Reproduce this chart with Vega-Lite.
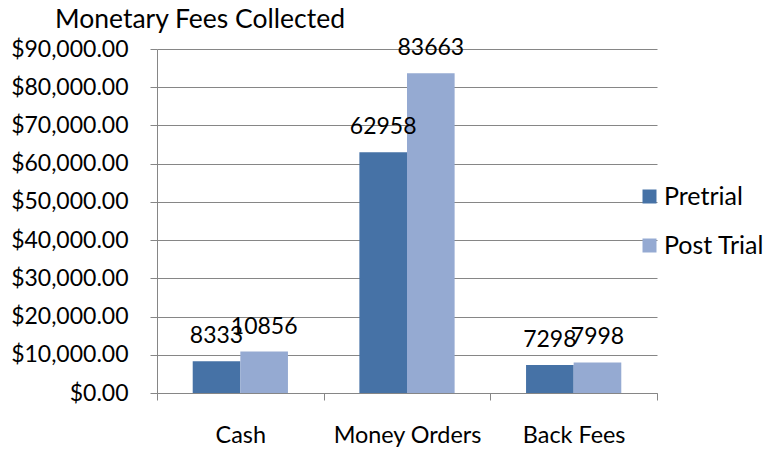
{
  "$schema": "https://vega.github.io/schema/vega-lite/v6.json",
  "width": 500,
  "height": 344,
  "autosize": {"type": "none"},
  "padding": {"left": 157, "top": 49, "right": 106, "bottom": 58},
  "background": "white",
  "title": {
    "text": "Monetary Fees Collected",
    "anchor": "start",
    "frame": "group",
    "dx": -102,
    "offset": 4,
    "font": "Lato",
    "fontSize": 26.5,
    "fontWeight": "normal",
    "color": "black"
  },
  "config": {
    "view": {"stroke": null},
    "font": "Lato"
  },
  "data": {
    "values": [
      {"category": "Cash", "series": "Pretrial", "value": 8333},
      {"category": "Cash", "series": "Post Trial", "value": 10856},
      {"category": "Money Orders", "series": "Pretrial", "value": 62958},
      {"category": "Money Orders", "series": "Post Trial", "value": 83663},
      {"category": "Back Fees", "series": "Pretrial", "value": 7298},
      {"category": "Back Fees", "series": "Post Trial", "value": 7998}
    ]
  },
  "encoding": {
    "x": {
      "field": "category",
      "type": "nominal",
      "sort": ["Cash", "Money Orders", "Back Fees"],
      "scale": {"paddingInner": 0, "paddingOuter": 0},
      "axis": {
        "title": null,
        "labelAngle": 0,
        "tickBand": "extent",
        "tickSize": 7,
        "tickColor": "#868686",
        "domainColor": "#868686",
        "labelPadding": 24,
        "labelFont": "Lato",
        "labelFontSize": 23.4,
        "labelColor": "black",
        "grid": false
      }
    },
    "xOffset": {
      "field": "series",
      "type": "nominal",
      "sort": ["Pretrial", "Post Trial"],
      "scale": {"paddingInner": 0, "paddingOuter": 0.75}
    },
    "y": {
      "field": "value",
      "type": "quantitative",
      "scale": {"domain": [0, 90000], "nice": false},
      "axis": {
        "title": null,
        "values": [0, 10000, 20000, 30000, 40000, 50000, 60000, 70000, 80000, 90000],
        "format": "$,.2f",
        "tickSize": 7,
        "tickColor": "#868686",
        "domainColor": "#868686",
        "gridColor": "#868686",
        "labelPadding": 22,
        "labelFont": "Lato",
        "labelFontSize": 23,
        "labelColor": "black"
      }
    }
  },
  "layer": [
    {
      "mark": {"type": "bar"},
      "encoding": {
        "color": {
          "field": "series",
          "type": "nominal",
          "scale": {"domain": ["Pretrial", "Post Trial"], "range": ["#4672A6", "#95AAD2"]},
          "legend": {
            "title": null,
            "orient": "none",
            "legendX": 480,
            "legendY": 135,
            "padding": 0,
            "symbolType": "square",
            "symbolSize": 196,
            "symbolStrokeWidth": 0,
            "symbolOpacity": 1,
            "labelOffset": 2,
            "rowPadding": 23,
            "labelFont": "Lato",
            "labelFontSize": 25,
            "labelColor": "black"
          }
        }
      }
    },
    {
      "mark": {"type": "text", "baseline": "alphabetic", "dy": -18, "fontSize": 23, "color": "black", "font": "Lato"},
      "encoding": {
        "text": {"field": "value", "type": "quantitative", "format": "d"}
      }
    }
  ]
}
